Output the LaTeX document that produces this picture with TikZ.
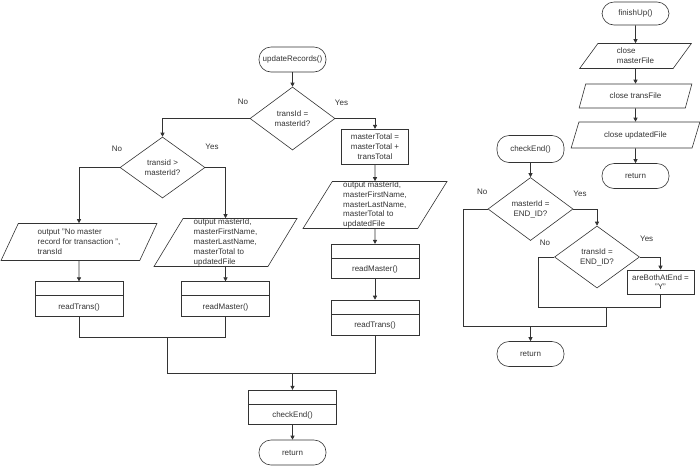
\documentclass[tikz,border=0pt]{standalone}
\usepackage{fontspec}
\setmainfont{Liberation Sans}
\usetikzlibrary{shapes.geometric,arrows.meta}
\begin{document}
\begin{tikzpicture}[x=1pt,y=-1pt,line width=0.6pt,color=black!80,
        font=\fontsize{8}{9.8}\selectfont,
        arr/.style={-{Triangle[length=4pt,width=4pt]}},
        term/.style={draw,rounded corners=12pt,minimum width=67pt,minimum height=25pt,inner xsep=2pt},
        dec/.style={diamond,draw,minimum width=85pt,minimum height=62pt,inner sep=0pt,align=center},
        io/.style={trapezium,trapezium left angle=65,trapezium right angle=115,trapezium stretches=true,draw,inner sep=0pt,align=left},
        box/.style={draw,align=center,inner sep=1pt},
        proc/.style={draw,minimum width=88pt,minimum height=35pt,text height=20pt,text depth=0pt,
            path picture={\draw ([yshift=-14pt]path picture bounding box.north west) -- ([yshift=-14pt]path picture bounding box.north east);}}]
        \useasboundingbox (0,0) rectangle (700,467);
        \node[term] (ur) at (292.5,59.5) {updateRecords()};
        \node[dec,minimum height=63pt] (d1) at (292.5,118.5) {transId =\\masterId?};
        \node[dec,minimum height=61pt] (d2) at (162.5,167.5) {transid >\\masterId?};
        \node[io,minimum width=156pt,minimum height=37pt] (o1) at (79,242) {output "No master\\record for transaction ",\\transId};
        \node[io,minimum width=143pt,minimum height=48pt] (o2) at (225.5,242.5) {output masterId,\\masterFirstName,\\masterLastName,\\masterTotal to\\updatedFile};
        \node[proc] (rt1) at (79,299.2) {readTrans()};
        \node[proc] (rm1) at (225.5,299.2) {readMaster()};
        \node[box,minimum width=67pt,minimum height=35pt] (mt) at (375,146.7) {masterTotal =\\masterTotal +\\transTotal};
        \node[io,minimum width=144pt,minimum height=47pt] (o3) at (375,205) {output masterId,\\masterFirstName,\\masterLastName,\\masterTotal to\\updatedFile};
        \node[proc,minimum height=34pt] (rm2) at (375,261.2) {readMaster()};
        \node[proc] (rt2) at (375,317.5) {readTrans()};
        \node[proc,minimum height=34pt] (ce1) at (292.5,407.2) {checkEnd()};
        \node[term] (r1) at (292.5,452.5) {return};
        \node (n1) at (243,101.5) {No};
        \node (y1) at (341.5,103) {Yes};
        \node (n2) at (117,148.3) {No};
        \node (y2) at (212,146.7) {Yes};
        \draw[arr] (ur) -- (d1);
        \draw[arr] (d1.west) -| (d2.north);
        \draw[arr] (d1.east) -| (mt.north);
        \draw[arr] (d2.west) -| (o1.north);
        \draw[arr] (d2.east) -| (o2.north);
        \draw[arr] (o1.south) -- (rt1.north);
        \draw[arr] (o2.south) -- (rm1.north);
        \draw[arr] (mt) -- (o3);
        \draw[arr] (o3) -- (rm2);
        \draw[arr] (rm2) -- (rt2);
        \coordinate (j1) at (167,337);
        \coordinate (j2) at (292.5,373);
        \draw (rt1.south) |- (j1) -| (rm1.south);
        \draw (j1) |- (j2) -| (rt2.south);
        \draw[arr] (j2) -- (ce1.north);
        \draw[arr] (ce1) -- (r1);
        \node[term,minimum height=23pt] (fu) at (635.5,13.5) {finishUp()};
        \node[io,trapezium left angle=60,trapezium right angle=120,minimum width=112pt,minimum height=25pt] (c1) at (635.5,56) {close\\masterFile};
        \node[io,trapezium left angle=60,trapezium right angle=120,minimum width=113pt,minimum height=24pt] (c2) at (635.5,96) {close transFile};
        \node[io,trapezium left angle=60,trapezium right angle=120,minimum width=129pt,minimum height=26pt] (c3) at (635.5,135) {close updatedFile};
        \node[term] (r3) at (635.5,176) {return};
        \draw[arr] (fu) -- (c1);
        \draw[arr] (c1) -- (c2);
        \draw[arr] (c2) -- (c3);
        \draw[arr] (c3) -- (r3);
        \node[term,minimum height=27pt] (ce2) at (530.5,149) {checkEnd()};
        \node[dec,minimum height=63pt] (d3) at (530.5,209) {masterId =\\END\_ID?};
        \node[dec] (d4) at (597,257) {transId =\\END\_ID?};
        \node[box,minimum width=67pt,minimum height=24pt] (ab) at (660.5,282) {areBothAtEnd =\\"Y"};
        \node[term] (r2) at (530.5,354) {return};
        \node (n3) at (482.3,191.7) {No};
        \node (y3) at (580,194) {Yes};
        \node (n4) at (545,242.3) {No};
        \node (y4) at (646.7,238.3) {Yes};
        \draw[arr] (ce2) -- (d3);
        \draw[arr] (d3.east) -| (d4.north);
        \draw[arr] (d4.east) -| (ab.north);
        \coordinate (k1) at (538,307.3);
        \coordinate (k2) at (606,307.3);
        \coordinate (k3) at (463,326.7);
        \coordinate (k4) at (530.5,326.7);
        \draw (ab.south) |- (k1) |- (d4.west);
        \draw (k2) |- (k3) |- (d3.west);
        \draw[arr] (k4) -- (r2.north);
    \end{tikzpicture}
\end{document}
